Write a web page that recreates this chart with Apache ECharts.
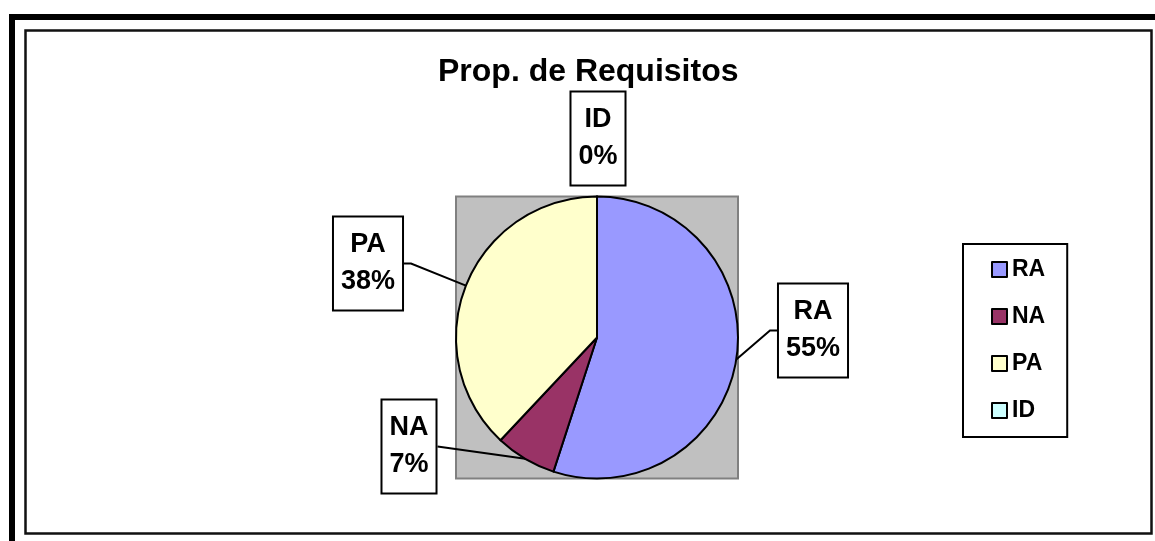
<!DOCTYPE html>
<html>
<head>
<meta charset="utf-8">
<script src="https://cdn.jsdelivr.net/npm/echarts@6/dist/echarts.min.js"></script>
<style>
  html, body { margin: 0; padding: 0; background: #fff; }
  #main { width: 1155px; height: 541px; }
</style>
</head>
<body>
<div id="main"></div>
<script>
// datos del grafico
var categorias = ['RA', 'NA', 'PA', 'ID'];
var valores = [55, 7, 38, 0];
var colores = ['#9999FF', '#993366', '#FFFFCC', '#CCFFFF'];

// geometria del pie (px)
var cx = 597, cy = 337.5, radio = 141;
// centro de cada etiqueta, relativo al centro del pie
var posEtiqueta = [[216, -7], [-188, 109], [-229, -74], [1, -199]];
var fuente = '"Liberation Sans", Arial, sans-serif';

function pieChart(id) {
    var myChart = echarts.init(document.getElementById(id));

    var data = categorias.map(function (c, i) {
        var item = { name: c, value: valores[i], itemStyle: { color: colores[i] } };
        if (valores[i] === 0) {
            item.labelLine = { show: false };
        }
        return item;
    });

    var option = {
        animation: false,
        title: {
            text: 'Prop. de Requisitos',
            left: 438,
            top: 56,
            padding: 0,
            textStyle: {
                fontFamily: fuente,
                fontSize: 32,
                fontWeight: 'bold',
                color: '#000'
            }
        },
        legend: {
            orient: 'vertical',
            left: 963,
            top: 244,
            padding: [14, 22, 15, 28],
            itemGap: 24,
            itemWidth: 15,
            itemHeight: 15,
            itemTextGap: 6,
            icon: 'rect',
            selectedMode: false,
            backgroundColor: '#fff',
            borderColor: '#000',
            borderWidth: 2,
            borderRadius: 0,
            itemStyle: { borderColor: '#000', borderWidth: 2 },
            textStyle: {
                fontFamily: fuente,
                fontSize: 23,
                fontWeight: 'bold',
                color: '#000'
            },
            data: categorias
        },
        graphic: [
            // marco exterior
            { type: 'rect', shape: { x: 12, y: 17, width: 1160, height: 540 },
              style: { fill: null, stroke: '#000', lineWidth: 6 }, silent: true },
            // marco del area del grafico
            { type: 'rect', shape: { x: 25.5, y: 30.5, width: 1126, height: 503 },
              style: { fill: '#fff', stroke: '#111', lineWidth: 2.5 }, silent: true, z: -1 },
            // area de trazado gris
            { type: 'rect', shape: { x: cx - radio, y: cy - radio, width: radio * 2, height: radio * 2 },
              style: { fill: '#C0C0C0', stroke: '#808080', lineWidth: 2 }, silent: true, z: 0 }
        ],
        series: [{
            type: 'pie',
            center: [cx, cy],
            radius: radio,
            startAngle: 90,
            clockwise: true,
            silent: true,
            percentPrecision: 0,
            z: 3,
            itemStyle: {
                borderColor: '#000',
                borderWidth: 2
            },
            label: {
                show: true,
                position: 'outside',
                formatter: '{b}\n{d}%',
                fontFamily: fuente,
                fontSize: 27,
                fontWeight: 'bold',
                lineHeight: 37,
                color: '#000',
                backgroundColor: '#fff',
                borderColor: '#000',
                borderWidth: 2,
                padding: [9, 7, 9, 7],
                align: 'center'
            },
            labelLine: {
                show: true,
                length: 10,
                length2: 8,
                lineStyle: { color: '#000', width: 2 }
            },
            labelLayout: function (params) {
                var p = posEtiqueta[params.dataIndex];
                var x = cx + p[0], y = cy + p[1];
                var res = { x: x, y: y, align: 'center', verticalAlign: 'middle' };
                var pts = params.labelLinePoints;
                if (pts && valores[params.dataIndex] > 0) {
                    var w = params.labelRect.width;
                    var lado = p[0] > 0 ? x - w / 2 : x + w / 2;
                    var codo = p[0] > 0 ? lado - 7 : lado + 7;
                    if (params.dataIndex === 1) codo = lado;
                    res.labelLinePoints = [pts[0], [codo, y], [lado, y]];
                }
                return res;
            },
            data: data
        }]
    };

    myChart.setOption(option);
    window.addEventListener('resize', function () {
        myChart.resize();
    });
}

pieChart('main');
</script>
</body>
</html>
